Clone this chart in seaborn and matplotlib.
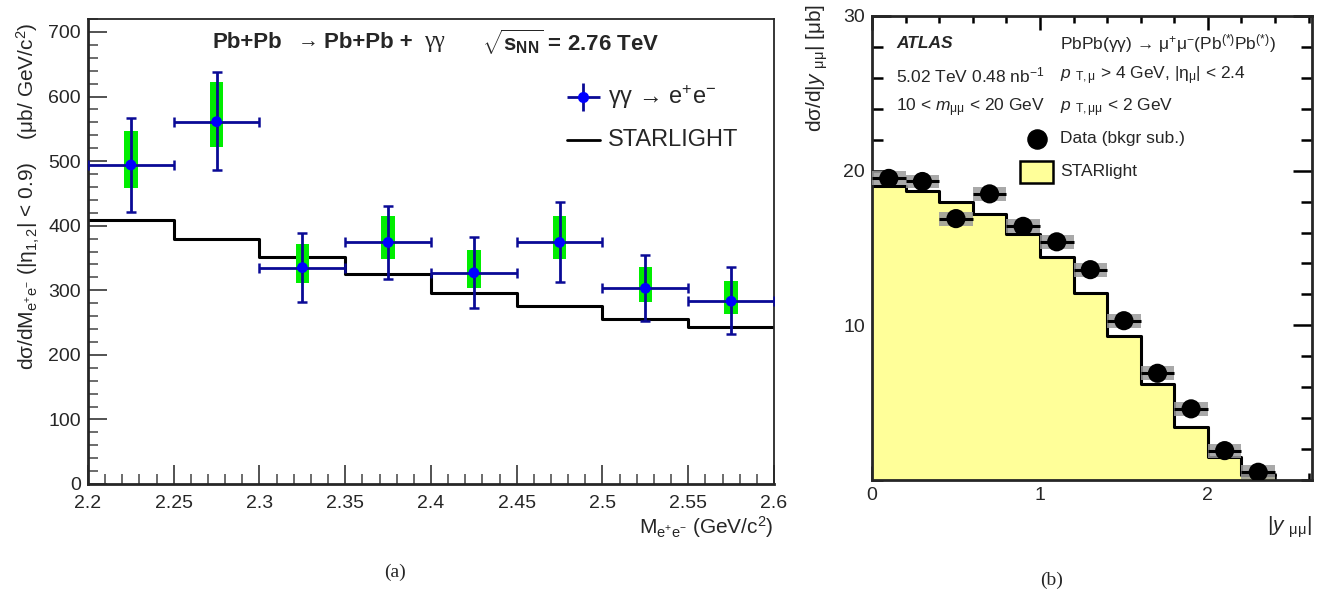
"""Two-panel gamma-gamma -> lepton pair cross-section figure."""
import matplotlib
matplotlib.use("Agg")
import matplotlib.pyplot as plt
from matplotlib.ticker import MultipleLocator, FixedLocator
import numpy as np
import seaborn as sns

# ---------------- panel (a): e+e- mass spectrum ----------------
mass_edges = [2.2, 2.25, 2.3, 2.35, 2.4, 2.45, 2.5, 2.55, 2.6]
mass_centers = [2.225, 2.275, 2.325, 2.375, 2.425, 2.475, 2.525, 2.575]
xsec_ee = [494, 561, 335, 374, 327, 374, 303, 283]
stat_hi = [567, 638, 388, 430, 382, 436, 354, 336]
stat_lo = [421, 486, 282, 317, 272, 313, 252, 232]
syst_hi = [546, 622, 371, 415, 362, 415, 336, 314]
syst_lo = [458, 522, 311, 348, 303, 348, 282, 263]
starlight_ee = [409, 379, 351, 325, 296, 276, 255, 243]

# ---------------- panel (b): ATLAS |y_mumu| spectrum ----------------
y_edges = [0.0, 0.2, 0.4, 0.6, 0.8, 1.0, 1.2, 1.4, 1.6, 1.8, 2.0, 2.2, 2.4]
y_centers = [0.1, 0.3, 0.5, 0.7, 0.9, 1.1, 1.3, 1.5, 1.7, 1.9, 2.1, 2.3]
xsec_mumu = [19.5, 19.3, 16.9, 18.5, 16.4, 15.4, 13.6, 10.3, 6.9, 4.6, 1.9, 0.5]
syst_mumu = [0.45, 0.45, 0.45, 0.45, 0.45, 0.45, 0.45, 0.45, 0.45, 0.45, 0.45, 0.45]
starlight_mumu = [19.0, 18.7, 18.0, 17.2, 15.9, 14.4, 12.1, 9.3, 6.2, 3.4, 1.5, 0.3]

sns.set_theme(style="ticks")
plt.rcParams["font.family"] = ["Liberation Sans", "DejaVu Sans"]
plt.rcParams["mathtext.fontset"] = "custom"
plt.rcParams["mathtext.rm"] = "Liberation Sans"
plt.rcParams["mathtext.it"] = "Liberation Sans:italic"
plt.rcParams["mathtext.bf"] = "Liberation Sans:bold"
SERIF = ["Liberation Serif", "DejaVu Serif"]

fig = plt.figure(figsize=(13.23, 5.95), dpi=100)
W, H = 1323, 595
axa = fig.add_axes([88 / W, 1 - 484 / H, (774 - 88) / W, (484 - 19) / H])
axb = fig.add_axes([872 / W, 1 - 480 / H, (1312 - 872) / W, (480 - 16) / H])

# ---- (a)
sns.histplot(x=mass_centers, weights=starlight_ee, bins=mass_edges,
             element="step", fill=False, color="black", linewidth=2.2, ax=axa)
lo = np.array(syst_lo); hi = np.array(syst_hi)
axa.bar(mass_centers, hi - lo, bottom=lo, width=0.008, color="#00ee00",
        linewidth=0, zorder=2)
yc = np.array(xsec_ee)
axa.errorbar(mass_centers, yc, xerr=0.025,
             yerr=[yc - np.array(stat_lo), np.array(stat_hi) - yc],
             fmt="none", ecolor="#0a0a96", elinewidth=2, capsize=3.5,
             capthick=1.8, zorder=3)
sns.scatterplot(x=mass_centers, y=xsec_ee, color="#0000ff", s=60,
                edgecolor="none", zorder=4, ax=axa, legend=False)
axa.set_xlim(2.2, 2.6)
axa.set_ylim(0, 720)
axa.xaxis.set_major_locator(MultipleLocator(0.05))
axa.xaxis.set_minor_locator(MultipleLocator(0.01))
axa.yaxis.set_major_locator(MultipleLocator(100))
axa.yaxis.set_minor_locator(MultipleLocator(20))
axa.xaxis.set_major_formatter(matplotlib.ticker.FuncFormatter(
    lambda v, p: f"{v:g}"))
axa.tick_params(which="major", direction="in", length=14, width=1.3,
                labelsize=14, color="#444444", pad=5)
axa.tick_params(which="minor", direction="in", length=7, width=1.1,
                color="#444444")
axa.tick_params(axis="x", which="major", pad=8)
axa.set_xlabel(""); axa.set_ylabel("")
for sp in axa.spines.values():
    sp.set_linewidth(1.3)
axa.spines["left"].set_linewidth(2)
axa.spines["bottom"].set_linewidth(2)

ty = 1 - 42 / H
fig.text(212 / W, ty, "Pb+Pb", fontsize=16, fontweight="bold", va="center")
fig.text(298 / W, ty, "→", fontsize=15, va="center")
fig.text(324 / W, ty, "Pb+Pb +", fontsize=16, fontweight="bold",
         va="center")
fig.text(424 / W, ty, "γγ", fontsize=17, family=SERIF, va="center")
fig.text(482 / W, ty, r"$\sqrt{\mathbf{s}_{\mathbf{NN}}}$ = 2.76 TeV",
         fontsize=16, fontweight="bold", va="center")

# legend drawn by hand in axes coords
lx0, lx1 = 0.698, 0.746
axa.errorbar([(lx0 + lx1) / 2], [0.832], xerr=[(lx1 - lx0) / 2],
             yerr=[0.03], fmt="o", color="#0000ff", ecolor="#0a0a96",
             elinewidth=2, markersize=7, transform=axa.transAxes,
             clip_on=False)
axa.text(0.758, 0.832, "γγ → e$^{+}$e$^{-}$", transform=axa.transAxes,
         fontsize=17, va="center")
axa.plot([lx0, lx1], [0.740, 0.740], color="black", lw=2,
         transform=axa.transAxes)
axa.text(0.758, 0.740, "STARLIGHT", transform=axa.transAxes, fontsize=17,
         va="center")

fig.text(774 / W, 1 - 527 / H, r"M$_{\mathrm{e^{+}e^{-}}}$ (GeV/c$^{2}$)",
         ha="right", va="center", fontsize=15)
fig.text(28 / W, 1 - 22 / H,
         r"dσ/dM$_{\mathrm{e^{+}e^{-}}}$ (|η$_{1,2}$| < 0.9)    (μb/ GeV/c$^{2}$)",
         rotation=90, ha="center", va="top", fontsize=15)
fig.text(395 / W, 1 - 572 / H, "(a)", ha="center", va="center",
         fontsize=14, family=SERIF)

# ---- (b)
sns.histplot(x=y_centers, weights=starlight_mumu, bins=y_edges,
             element="step", fill=True, color="#ffff99", alpha=1,
             linewidth=0, ax=axb, zorder=1)
sns.histplot(x=y_centers, weights=starlight_mumu, bins=y_edges,
             element="step", fill=False, color="black", linewidth=2.2,
             ax=axb, zorder=2)
ym = np.array(xsec_mumu); sy = np.array(syst_mumu)
axb.bar(y_centers, 2 * sy, bottom=ym - sy, width=0.2, color="#9a9a9a",
        alpha=0.85, linewidth=0, zorder=3)
axb.errorbar(y_centers, ym, xerr=0.1, fmt="none", ecolor="black",
             elinewidth=2.2, capsize=0, zorder=4)
sns.scatterplot(x=y_centers, y=xsec_mumu, color="black", s=190,
                edgecolor="none", zorder=5, ax=axb, legend=False)
axb.set_xlim(0, 2.62)
axb.set_ylim(0, 30)
axb.xaxis.set_major_locator(MultipleLocator(1))
axb.xaxis.set_minor_locator(MultipleLocator(0.2))
axb.yaxis.set_major_locator(FixedLocator([10, 20, 30]))
axb.yaxis.set_minor_locator(MultipleLocator(2))
axb.tick_params(which="both", direction="in", top=True, right=True,
                labelsize=14, width=1.8, color="black", pad=5)
axb.tick_params(which="major", length=10)
axb.tick_params(which="minor", length=5)
axb.tick_params(axis="y", which="major", length=14)
axb.tick_params(axis="y", which="minor", length=8)
axb.set_xlabel(""); axb.set_ylabel("")
for sp in axb.spines.values():
    sp.set_linewidth(2)

tk = dict(transform=axb.transAxes, fontsize=12.5, va="center")
axb.text(0.055, 0.940, "ATLAS", fontweight="bold", style="italic", **tk)
axb.text(0.427, 0.940,
         "PbPb(γγ) → μ$^{+}$μ$^{-}$(Pb$^{(*)}$Pb$^{(*)}$)", **tk)
axb.text(0.055, 0.871, r"5.02 TeV 0.48 nb$^{-1}$", **tk)
axb.text(0.427, 0.871, r"$p$ $_{\mathrm{T,μ}}$ > 4 GeV, |η$_{\mathrm{μ}}$| < 2.4",
         **tk)
axb.text(0.055, 0.802, r"10 < $m$$_{\mathrm{μμ}}$ < 20 GeV", **tk)
axb.text(0.427, 0.802, r"$p$ $_{\mathrm{T,μμ}}$ < 2 GeV", **tk)
axb.scatter([0.374], [0.735], s=190, color="black", transform=axb.transAxes,
            clip_on=False)
axb.text(0.427, 0.735, "Data (bkgr sub.)", **tk)
axb.add_patch(plt.Rectangle((0.336, 0.640), 0.075, 0.047, facecolor="#ffff99",
                            edgecolor="black", lw=1.8,
                            transform=axb.transAxes))
axb.text(0.427, 0.664, "STARlight", **tk)

fig.text(1312 / W, 1 - 527 / H, r"|$y$ $_{\mathrm{μμ}}$|", ha="right",
         va="center", fontsize=15)
fig.text(817 / W, 1 - 4 / H, r"dσ/d|$y$ $_{\mathrm{μμ}}$| [μb]", rotation=90,
         ha="center", va="top", fontsize=15)
fig.text(1052 / W, 1 - 580 / H, "(b)", ha="center", va="center",
         fontsize=14, family=SERIF)

fig.savefig("out.png", dpi=100)
plt.close(fig)
